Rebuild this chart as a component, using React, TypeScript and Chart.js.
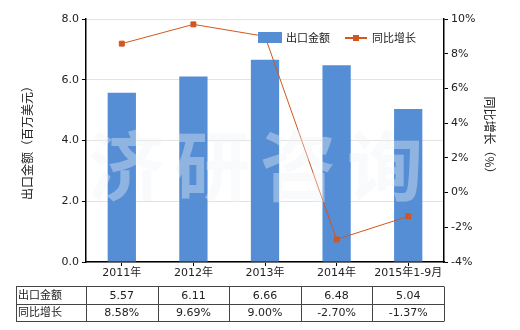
import React, { useEffect, useRef } from "react";
import { Chart, registerables } from "chart.js";
Chart.register(...registerables);

const categories = ["2011年", "2012年", "2013年", "2014年", "2015年1-9月"];
const exportValues = [5.57, 6.11, 6.66, 6.48, 5.04];
const growthValues = [8.58, 9.69, 9.0, -2.7, -1.37];
const exportLabels = ["5.57", "6.11", "6.66", "6.48", "5.04"];
const growthLabels = ["8.58%", "9.69%", "9.00%", "-2.70%", "-1.37%"];
const seriesNames = ["出口金额", "同比增长"];
const leftTitle = "出口金额（百万美元）";
const rightTitle = "同比增长（%）";
const watermark = "济研咨询";

const BAR_COLOR = "#558ed5";
const LINE_COLOR = "#d2561e";
const FONT = "'DejaVu Sans', 'Noto Sans CJK SC', sans-serif";
const CJK = "'Noto Sans CJK SC', 'DejaVu Sans', sans-serif";
const TEXT = "#222";

const overlayPlugin = {
  id: "overlay",
  afterDatasetsDraw(chart: any) {
    const ctx = chart.ctx;
    ctx.save();
    // watermark
    ctx.fillStyle = "rgba(240,243,246,0.38)";
    ctx.font = `bold 76px ${CJK}`;
    ctx.textAlign = "center";
    ctx.textBaseline = "middle";
    const wmY = 166;
    const xs = [126, 212, 298, 385];
    for (let i = 0; i < watermark.length; i++) {
      ctx.fillText(watermark[i], xs[i], wmY);
    }
    ctx.restore();
  },
  afterDraw(chart: any) {
    const ctx = chart.ctx;
    const area = chart.chartArea;
    const x = chart.scales.x;
    ctx.save();
    // legend
    ctx.fillStyle = BAR_COLOR;
    ctx.fillRect(258, 32, 24, 11);
    ctx.fillStyle = TEXT;
    ctx.font = `11px ${CJK}`;
    ctx.textAlign = "left";
    ctx.textBaseline = "middle";
    ctx.fillText(seriesNames[0], 286, 38);
    ctx.strokeStyle = LINE_COLOR;
    ctx.lineWidth = 2;
    ctx.beginPath();
    ctx.moveTo(345, 38);
    ctx.lineTo(367, 38);
    ctx.stroke();
    ctx.fillStyle = LINE_COLOR;
    ctx.fillRect(353, 35, 6, 6);
    ctx.fillStyle = TEXT;
    ctx.fillText(seriesNames[1], 372, 38);

    // axis titles
    ctx.font = `12px ${CJK}`;
    ctx.textAlign = "center";
    ctx.textBaseline = "middle";
    ctx.save();
    ctx.translate(27, 140);
    ctx.rotate(-Math.PI / 2);
    ctx.fillText(leftTitle, 0, 0);
    ctx.restore();
    ctx.save();
    ctx.translate(490, 138);
    ctx.rotate(Math.PI / 2);
    ctx.fillText(rightTitle, 0, 0);
    ctx.restore();

    // table
    const left = 16;
    const top = 286;
    const mid = 303.5;
    const bottom = 321;
    const colW = (area.right - area.left) / categories.length;
    ctx.strokeStyle = "#444";
    ctx.lineWidth = 1;
    ctx.beginPath();
    [top, mid, bottom].forEach((yy) => {
      ctx.moveTo(left, Math.round(yy) + 0.5);
      ctx.lineTo(area.right, Math.round(yy) + 0.5);
    });
    const vx = [left, area.left];
    for (let i = 1; i <= categories.length; i++) vx.push(area.left + colW * i);
    vx.forEach((xx) => {
      ctx.moveTo(Math.round(xx) + 0.5, top + 0.5);
      ctx.lineTo(Math.round(xx) + 0.5, bottom + 0.5);
    });
    ctx.stroke();
    ctx.fillStyle = TEXT;
    ctx.font = `11px ${CJK}`;
    ctx.textAlign = "left";
    ctx.fillText(seriesNames[0], 18, (top + mid) / 2);
    ctx.fillText(seriesNames[1], 18, (mid + bottom) / 2);
    ctx.textAlign = "center";
    ctx.font = `11px ${FONT}`;
    for (let i = 0; i < categories.length; i++) {
      const cx = x.getPixelForValue(i);
      ctx.fillText(exportLabels[i], cx, (top + mid) / 2 + 1);
      ctx.fillText(growthLabels[i], cx, (mid + bottom) / 2 + 1);
    }
    ctx.restore();
  },
};

export default function App() {
  const ref = useRef<HTMLCanvasElement>(null);
  useEffect(() => {
    if (!ref.current) return;
    const chart = new Chart(ref.current, {
      type: "bar",
      data: {
        labels: categories,
        datasets: [
          {
            type: "line",
            label: seriesNames[1],
            data: growthValues,
            yAxisID: "y1",
            borderColor: LINE_COLOR,
            backgroundColor: LINE_COLOR,
            borderWidth: 1,
            pointStyle: "rect",
            pointRadius: 3.5,
            pointBackgroundColor: LINE_COLOR,
            pointBorderColor: LINE_COLOR,
            order: 0,
            tension: 0,
          } as any,
          {
            type: "bar",
            label: seriesNames[0],
            data: exportValues,
            yAxisID: "y",
            backgroundColor: BAR_COLOR,
            barPercentage: 0.395,
            categoryPercentage: 1,
            order: 1,
          } as any,
        ],
      },
      options: {
        responsive: false,
        animation: false,
        layout: { padding: { top: 19, left: 0, right: 0, bottom: 0 } },
        plugins: { legend: { display: false }, tooltip: { enabled: false } },
        scales: {
          x: {
            offset: true,
            grid: {
              offset: false,
              drawOnChartArea: false,
              drawTicks: true,
              tickLength: 4,
              tickColor: "#000",
            },
            border: { color: "#000", width: 1.5 },
            ticks: { color: TEXT, font: { size: 11, family: FONT }, padding: 1, maxRotation: 0 },
            afterFit: (s: any) => {
              s.height = 68;
            },
          },
          y: {
            position: "left",
            min: 0,
            max: 8,
            ticks: {
              stepSize: 2,
              color: TEXT,
              font: { size: 11, family: FONT },
              padding: 3,
              callback: (v: any) => Number(v).toFixed(1),
            },
            grid: { color: "#e3e3e3", tickColor: "#000", tickLength: 4 },
            border: { color: "#000", width: 1.5 },
            afterFit: (s: any) => {
              s.width = 86;
            },
          },
          y1: {
            position: "right",
            min: -4,
            max: 10,
            ticks: {
              stepSize: 2,
              color: TEXT,
              font: { size: 11, family: FONT },
              padding: 3,
              callback: (v: any) => `${v}%`,
            },
            grid: { drawOnChartArea: false, tickColor: "#000", tickLength: 4 },
            border: { color: "#000", width: 1.5 },
            afterFit: (s: any) => {
              s.width = 76;
            },
          },
        },
      },
      plugins: [overlayPlugin],
    });
    return () => chart.destroy();
  }, []);
  return (
    <div style={{ position: "absolute", left: 0, top: 0, width: 520, height: 330, background: "#fff" }}>
      <canvas ref={ref} width={520} height={330} />
    </div>
  );
}
